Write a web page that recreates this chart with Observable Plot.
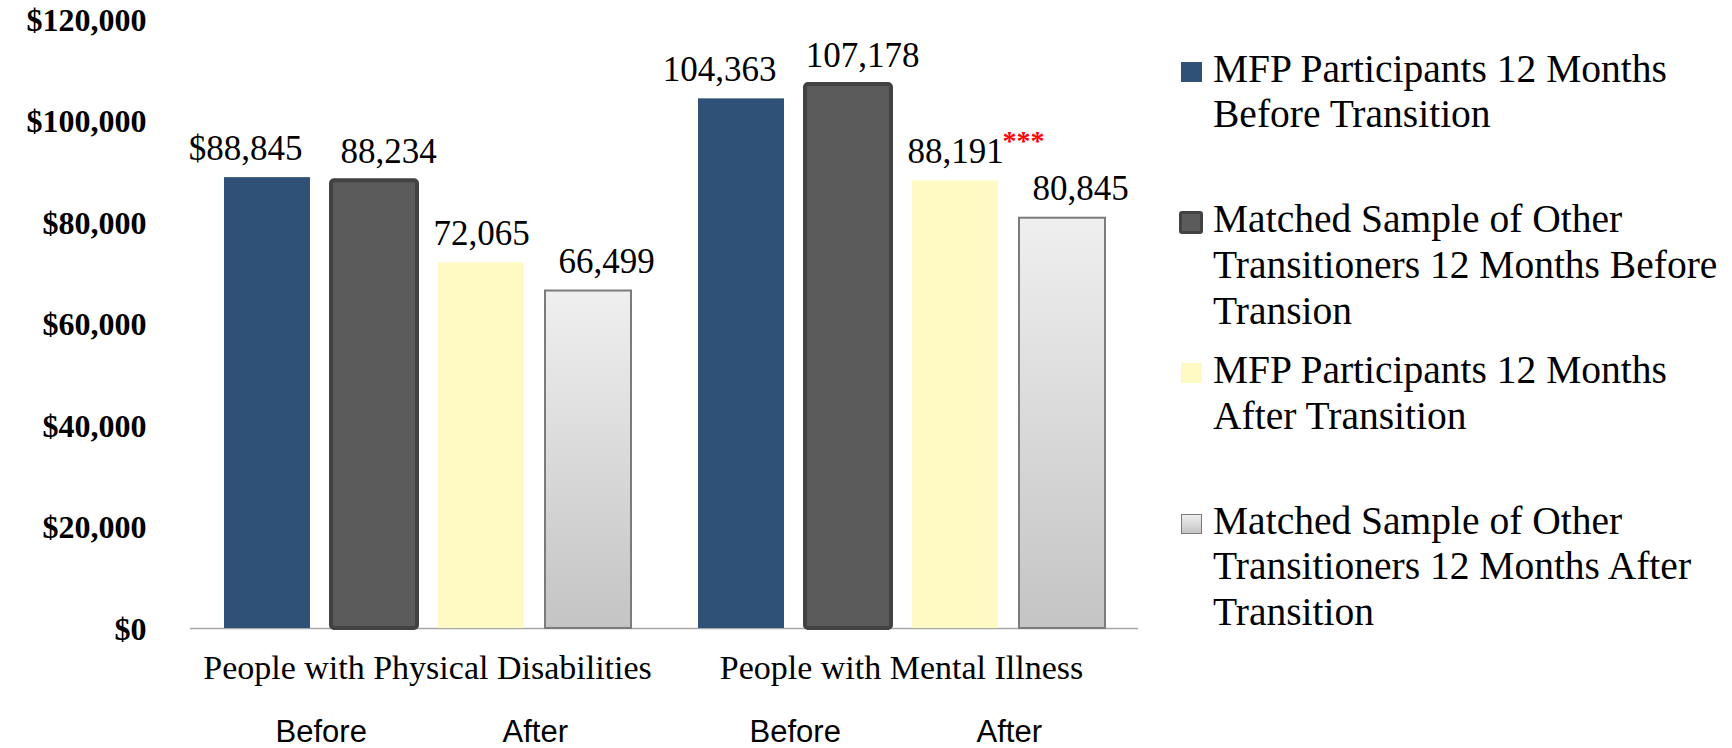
<!DOCTYPE html>
<html>
<head>
<meta charset="utf-8">
<script src="https://cdn.jsdelivr.net/npm/d3@7"></script>
<script src="https://cdn.jsdelivr.net/npm/@observablehq/plot@0.6"></script>
<style>
  html, body { margin: 0; padding: 0; background: #fff; }
  #wrap { position: relative; width: 1732px; height: 748px; overflow: hidden; }
  #legend { position: absolute; left: 1181px; top: 46.6px; font-family: "Liberation Serif", serif; font-size: 39.5px; line-height: 45.7px; color: #000; }
  .item { position: relative; height: 150.7px; width: 520px; padding-left: 32px; box-sizing: content-box; }
  .sw { position: absolute; left: 0; top: 15px; width: 21px; height: 20px; box-sizing: border-box; }
</style>
</head>
<body>
<div id="wrap">
  <div id="chart"></div>
  <div id="legend"></div>
</div>
<script>
const categories = ["People with Physical Disabilities", "People with Mental Illness"];
const series = [
  "MFP Participants 12 Months Before Transition",
  "Matched Sample of Other Transitioners 12 Months Before Transion",
  "MFP Participants 12 Months After Transition",
  "Matched Sample of Other Transitioners 12 Months After Transition"
];
const physicalValues = [88845, 88234, 72065, 66499];
const mentalValues = [104363, 107178, 88191, 80845];
const physicalSignificance = ["", "", "", ""];
const mentalSignificance = ["", "", "***", ""];
const yTicks = [0, 20000, 40000, 60000, 80000, 100000, 120000];
const phases = ["Before", "After"];

// styles (not data)
const barStyles = [
  {fill: "#2f5178"},
  {fill: "#5b5b5b", stroke: "#424242", strokeWidth: 4, rx: 3},
  {fill: "#fff9c4"},
  {fill: "url(#lightGrad)", stroke: "#7b7b7b", strokeWidth: 2}
];
const labelDx = [-22, 14, 0, 18];
const swatchCss = [
  "background:#2f5178;",
  "background:#5b5b5b;border:3px solid #424242;border-radius:3px;width:24px;height:23px;left:-2px;top:13.5px;",
  "background:#fff9c4;",
  "background:linear-gradient(#efefef,#c4c4c4);border:1.5px solid #7b7b7b;"
];

const valueSets = [physicalValues, mentalValues];
const sigSets = [physicalSignificance, mentalSignificance];
const rows = categories.flatMap((c, ci) => series.map((s, si) => ({
  category: c, series: s, value: valueSets[ci][si], sig: sigSets[ci][si], idx: ci * series.length + si
})));
const phaseRows = categories.flatMap(c => phases.map((p, pi) => ({category: c, phase: p, anchor: series[pi * 2]})));

const fmt = d3.format(",");
const W = 1732, H = 748, mL = 190, mR = 594;
const pIn = 0.2, pOut = 0.305;
const facetW = (W - mL - mR) / categories.length;
const step = facetW / (series.length - pIn + 2 * pOut);

const svg = Plot.plot({
  width: W, height: H,
  marginLeft: mL, marginRight: mR, marginTop: 19, marginBottom: 120,
  style: {fontFamily: "'Liberation Serif', serif", background: "white", color: "black", overflow: "visible"},
  fx: {domain: categories, padding: 0, axis: null, label: null},
  x: {domain: series, paddingInner: pIn, paddingOuter: pOut, axis: null, label: null},
  y: {domain: [0, 120000], axis: null, label: null},
  marks: [
    Plot.ruleY([0], {stroke: "#a6a6a6", strokeWidth: 1.5}),
    ...series.map((s, i) => Plot.barY(rows.filter(d => d.series === s), {
      fx: "category", x: "series", y: "value", ...barStyles[i]
    })),
    Plot.axisY(yTicks, {
      tickSize: 0, tickPadding: 44, fontSize: 32, fontWeight: "bold", dy: 1,
      tickFormat: d => "$" + fmt(d), label: null
    }),
    ...series.map((s, i) => Plot.text(rows.filter(d => d.series === s), {
      fx: "category", x: "series", y: "value",
      text: d => (d.idx === 0 ? "$" : "") + fmt(d.value),
      lineAnchor: "bottom", dx: labelDx[i], dy: -18, fontSize: 35
    })),
    Plot.text(rows.filter(d => d.sig), {
      fx: "category", x: "series", y: "value", text: "sig",
      textAnchor: "start", lineAnchor: "bottom", dx: 47, dy: -31,
      fill: "#ff0000", fontSize: 28, fontWeight: "bold"
    }),
    Plot.text(categories, {
      fx: d => d, text: d => d, frameAnchor: "bottom", lineAnchor: "bottom", dy: 50, fontSize: 34
    }),
    Plot.text(phaseRows, {
      fx: "category", x: "anchor", text: "phase", frameAnchor: "bottom", lineAnchor: "bottom",
      dx: step / 2, dy: 113, fontSize: 31, fontFamily: "'Liberation Sans', Arial, sans-serif"
    })
  ]
});

const defs = d3.select(svg).insert("defs", ":first-child");
const grad = defs.append("linearGradient").attr("id", "lightGrad")
  .attr("x1", 0).attr("y1", 0).attr("x2", 0).attr("y2", 1);
grad.append("stop").attr("offset", "0%").attr("stop-color", "#efefef");
grad.append("stop").attr("offset", "100%").attr("stop-color", "#c4c4c4");

document.getElementById("chart").appendChild(svg);

const legend = d3.select("#legend");
series.forEach((s, i) => {
  const item = legend.append("div").attr("class", "item");
  item.append("span").attr("class", "sw").attr("style", swatchCss[i]);
  item.append("span").text(s);
});
</script>
</body>
</html>
